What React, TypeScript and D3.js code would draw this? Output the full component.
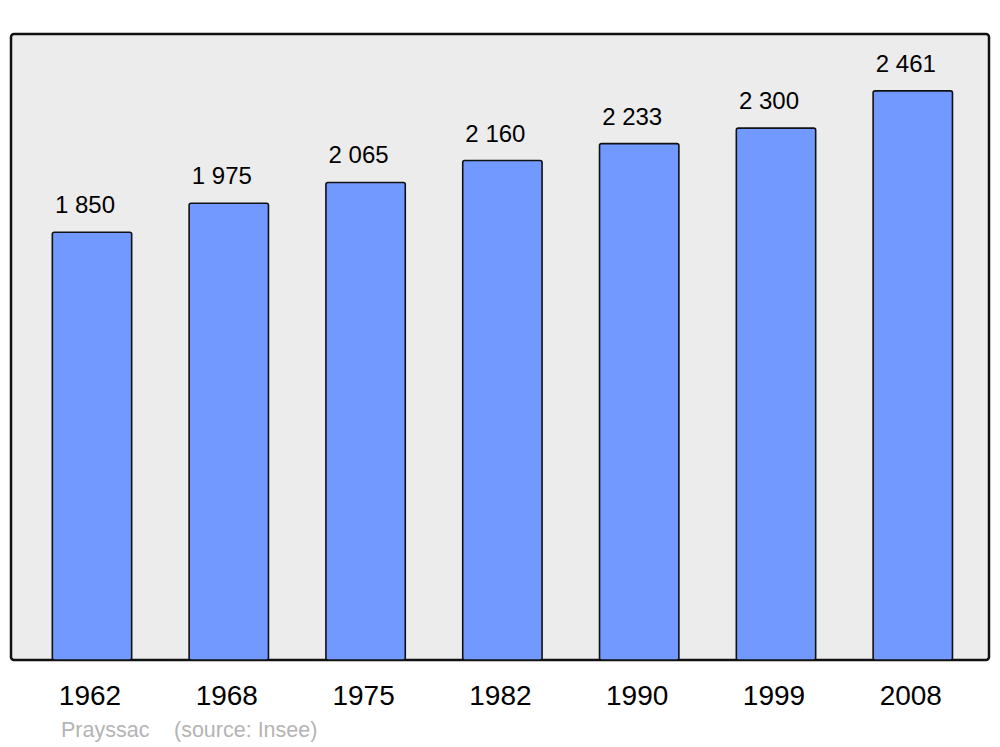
import React, { useEffect } from "react";
import * as d3 from "d3";

const years: string[] = ["1962", "1968", "1975", "1982", "1990", "1999", "2008"];
const population: number[] = [1850, 1975, 2065, 2160, 2233, 2300, 2461];
const valueLabels: string[] = ["1 850", "1 975", "2 065", "2 160", "2 233", "2 300", "2 461"];
const townName = "Prayssac";
const sourceText = "(source: Insee)";

const W = 1000;
const H = 747;
const frame = { x: 11, y: 34, w: 978, h: 626 };

export default function App() {
  useEffect(() => {
    document.body.style.margin = "0";
  }, []);

  const x = d3
    .scaleBand<string>()
    .domain(years)
    .range([23.6, 981.2])
    .paddingInner(0.42)
    .paddingOuter(0.21);

  const yMax = d3.max(population)! * 1.1;
  const y = d3.scaleLinear().domain([0, yMax]).range([frame.y + frame.h, frame.y]);

  const font = "'Liberation Sans', Arial, sans-serif";

  return (
    <svg width={W} height={H} style={{ display: "block" }} fontFamily={font}>
      <rect x={0} y={0} width={W} height={H} fill="#ffffff" />
      <rect
        x={frame.x}
        y={frame.y}
        width={frame.w}
        height={frame.h}
        rx={3}
        ry={3}
        fill="#ececec"
        stroke="#111"
        strokeWidth={2.5}
      />
      {years.map((yr, i) => {
        const bx = x(yr)!;
        const bw = x.bandwidth();
        const top = y(population[i]);
        const base = y(0);
        return (
          <g key={yr}>
            <rect
              x={bx}
              y={top}
              width={bw}
              height={base - top}
              rx={2}
              ry={2}
              fill="#7299ff"
              stroke="#111"
              strokeWidth={1.6}
            />
            <text
              x={bx + bw / 2 - 7}
              y={top - 19}
              textAnchor="middle"
              fontSize={24}
              fill="#000"
            >
              {valueLabels[i]}
            </text>
            <text
              x={bx + bw / 2 - 2}
              y={705}
              textAnchor="middle"
              fontSize={28}
              fill="#000"
            >
              {yr}
            </text>
          </g>
        );
      })}
      <text x={61} y={737} fontSize={21.5} fill="#b4b4b4">
        {townName}
      </text>
      <text x={174} y={737} fontSize={21.5} fill="#b4b4b4">
        {sourceText}
      </text>
    </svg>
  );
}
